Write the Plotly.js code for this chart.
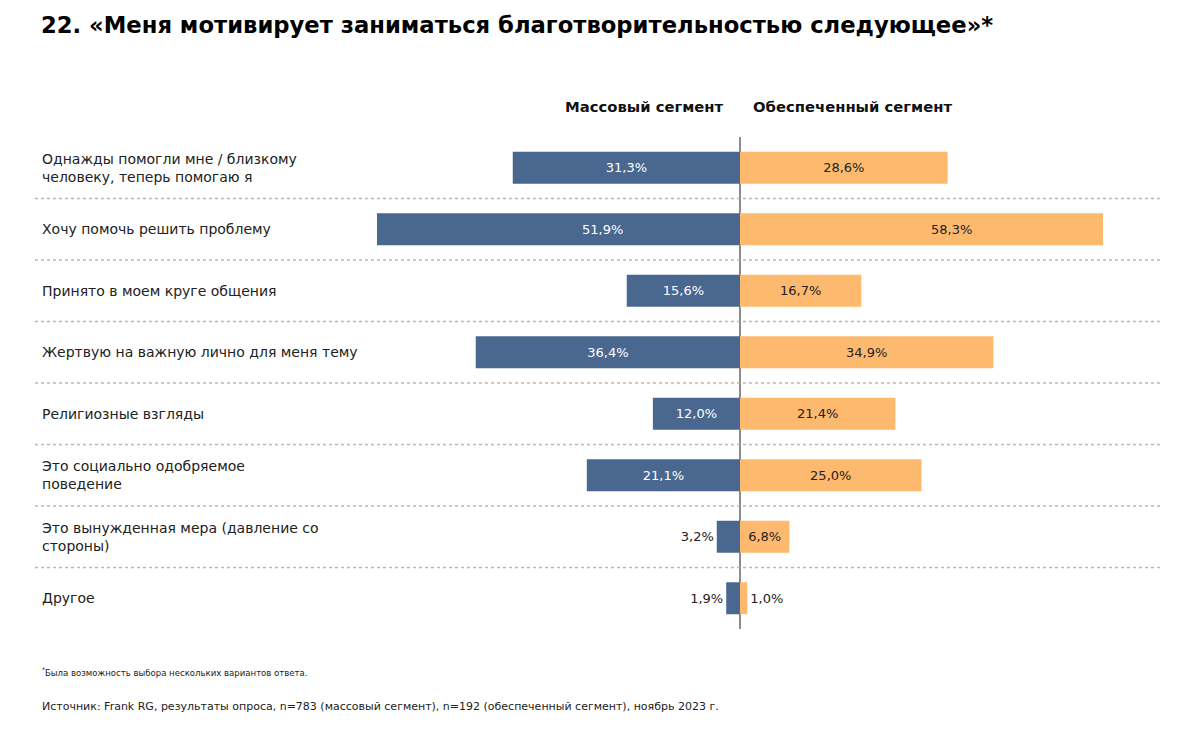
<!DOCTYPE html>
<html>
<head>
<meta charset="utf-8">
<script src="https://cdn.plot.ly/plotly-3.0.1.min.js"></script>
<style>html,body{margin:0;padding:0;background:#fff;}#chart{width:1200px;height:732px;}</style>
</head>
<body>
<div id="chart"></div>
<script>
const categories = [
  "Однажды помогли мне / близкому<br>человеку, теперь помогаю я",
  "Хочу помочь решить проблему",
  "Принято в моем круге общения",
  "Жертвую на важную лично для меня тему",
  "Религиозные взгляды",
  "Это социально одобряемое<br>поведение",
  "Это вынужденная мера (давление со<br>стороны)",
  "Другое"
];
const massSegment = [31.3, 51.9, 15.6, 36.4, 12.0, 21.1, 3.2, 1.9];
const richSegment = [28.6, 58.3, 16.7, 34.9, 21.4, 25.0, 6.8, 1.0];
const seriesNames = ["Массовый сегмент", "Обеспеченный сегмент"];
const titleText = "22. «Меня мотивирует заниматься благотворительностью следующее»*";
const footnoteText = "<sup>*</sup>Была возможность выбора нескольких вариантов ответа.";
const sourceText = "Источник: Frank RG, результаты опроса, n=783 (массовый сегмент), n=192 (обеспеченный сегмент), ноябрь 2023 г.";

const FONT = "DejaVu Sans, Verdana, sans-serif";
const NARROW = "DejaVu Sans Condensed, DejaVu Sans, sans-serif";
const AXMAX = 50;
const fmt = v => v.toFixed(1).replace('.', ',') + '%';
const idx = categories.map((_, i) => i);

const L = 377, R = 1103, T = 137, B = 629, W = 1200, H = 732;
const px = p => (p - L) / (R - L);
const py = p => (B - p) / (B - T);

// bars longer than the axis are labelled by annotations instead
const barText = arr => arr.map(v => v > AXMAX ? '' : fmt(v));

const traces = [
  {
    type: 'bar', orientation: 'h', name: seriesNames[0],
    y: idx, x: massSegment.map(v => -v),
    text: barText(massSegment), textposition: 'auto',
    insidetextanchor: 'middle',
    insidetextfont: {family: FONT, size: 13, color: '#ffffff'},
    outsidetextfont: {family: FONT, size: 13, color: '#222222'},
    marker: {color: '#4a6790'}, width: 0.52,
    hoverinfo: 'none'
  },
  {
    type: 'bar', orientation: 'h', name: seriesNames[1],
    y: idx, x: richSegment,
    text: barText(richSegment), textposition: 'auto',
    insidetextanchor: 'middle',
    insidetextfont: {family: FONT, size: 13, color: '#222222'},
    outsidetextfont: {family: FONT, size: 13, color: '#222222'},
    marker: {color: '#fdb96e'}, width: 0.52,
    hoverinfo: 'none'
  }
];

const annotations = categories.map((c, i) => ({
  xref: 'paper', yref: 'y', x: px(40), y: i, xanchor: 'left', yanchor: 'middle',
  text: c, showarrow: false, align: 'left',
  font: {family: FONT, size: 14, color: '#222222'}
}));
massSegment.forEach((v, i) => {
  if (v > AXMAX) annotations.push({xref: 'x', yref: 'y', x: -Math.min(v, AXMAX) / 2 + 6, y: i,
    text: fmt(v), showarrow: false, font: {family: FONT, size: 13, color: '#ffffff'}});
});
richSegment.forEach((v, i) => {
  if (v > AXMAX) annotations.push({xref: 'x', yref: 'y', x: v / 2, y: i,
    text: fmt(v), showarrow: false, font: {family: FONT, size: 13, color: '#222222'}});
});
annotations.push(
  {xref: 'paper', yref: 'paper', x: px(726), y: py(106), xanchor: 'right', yanchor: 'middle',
   text: '<b>' + seriesNames[0] + '</b>', showarrow: false, font: {family: FONT, size: 14.8, color: '#111'}},
  {xref: 'paper', yref: 'paper', x: px(751), y: py(106), xanchor: 'left', yanchor: 'middle',
   text: '<b>' + seriesNames[1] + '</b>', showarrow: false, font: {family: FONT, size: 14.8, color: '#111'}},
  {xref: 'paper', yref: 'paper', x: px(40), y: py(672), xanchor: 'left', yanchor: 'middle',
   text: footnoteText, showarrow: false, font: {family: NARROW, size: 9.5, color: '#222'}},
  {xref: 'paper', yref: 'paper', x: px(40), y: py(706), xanchor: 'left', yanchor: 'middle',
   text: sourceText, showarrow: false, font: {family: FONT, size: 11, color: '#222'}}
);

const shapes = [];
for (let i = 0; i < categories.length - 1; i++) {
  shapes.push({type: 'line', xref: 'paper', yref: 'y', x0: px(35), x1: px(1160), y0: i + 0.5, y1: i + 0.5,
    line: {color: '#b8b8b8', width: 1.5, dash: 'dot'}});
}

const layout = {
  width: W, height: H,
  margin: {l: L, r: W - R, t: T, b: H - B},
  paper_bgcolor: '#ffffff', plot_bgcolor: '#ffffff',
  barmode: 'relative', showlegend: false,
  title: {text: '<b>' + titleText + '</b>', x: 41 / W, xanchor: 'left', y: 1 - 25 / H, yanchor: 'middle',
    font: {family: FONT, size: 22.7, color: '#000'}},
  xaxis: {range: [-AXMAX, AXMAX], showgrid: false, showticklabels: false, ticks: '',
    zeroline: true, zerolinecolor: '#8c8c8c', zerolinewidth: 2, layer: 'above traces', fixedrange: true},
  yaxis: {range: [7.5, -0.5], showgrid: false, showticklabels: false, ticks: '', zeroline: false, fixedrange: true},
  annotations: annotations, shapes: shapes
};

Plotly.newPlot('chart', traces, layout, {displayModeBar: false, staticPlot: true});
</script>
</body>
</html>
